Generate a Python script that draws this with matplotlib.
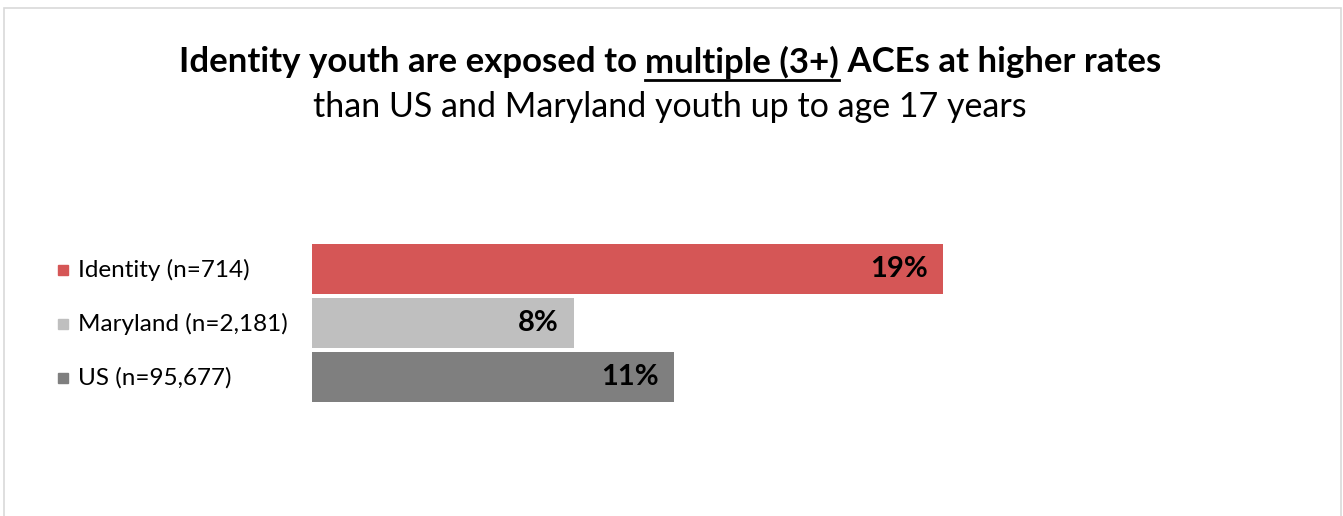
import matplotlib
matplotlib.use("Agg")
from matplotlib import pyplot as plt
from matplotlib.lines import Line2D
from matplotlib.patches import Rectangle

plt.rcParams['font.family'] = ['Lato', 'DejaVu Sans']

# data
groups = ["Identity (n=714)", "Maryland (n=2,181)", "US (n=95,677)"]
values = [19.0, 7.9, 10.9]
value_labels = ["19%", "8%", "11%"]
colors = ["#D55656", "#BFBFBF", "#7F7F7F"]

W, H = 1343, 516
fig = plt.figure(figsize=(W / 100, H / 100), dpi=100)

# light grey frame round the chart area
fig.add_artist(Rectangle((4 / W, -0.01), (1341 - 4) / W, (H - 8) / H + 0.01,
                         transform=fig.transFigure, fill=False,
                         edgecolor="#D9D9D9", linewidth=1.2))

# axes placed so bars start at x=312px, centres at y=269/322/376px
ax_left, ax_right = 312, 1300
ax_top, ax_bot = 242, 404
ax = fig.add_axes([ax_left / W, 1 - ax_bot / H, (ax_right - ax_left) / W, (ax_bot - ax_top) / H])
px_per_unit = 33.2
ax.set_xlim(0, (ax_right - ax_left) / px_per_unit)
ax.set_ylim(2.5, -0.5)
ax.axis("off")

ypos = list(range(len(values)))
ax.barh(ypos, values, height=0.92, color=colors)
for y, v, lab in zip(ypos, values, value_labels):
    ax.annotate(lab, (v, y), xytext=(-11, 0), textcoords="offset points",
                ha="right", va="center", fontsize=21, fontweight="bold", color="black")

# left-hand labels with little colour squares
for y, g, c in zip(ypos, groups, colors):
    fy = 1 - (270 + 54 * y) / H
    fig.add_artist(Rectangle((58 / W, fy - 5 / H), 10 / W, 10 / H,
                             transform=fig.transFigure, color=c))
    fig.text(78 / W, fy, g, ha="left", va="center", fontsize=17.5, color="black")

# title with underlined middle piece
parts = ["Identity youth are exposed to ", "multiple (3+)", " ACEs at higher rates"]
title_y = 1 - 62 / H
renderer = fig.canvas.get_renderer()
texts = [fig.text(0, title_y, p, ha="left", va="center", fontsize=25, fontweight="bold")
         for p in parts]
widths = [t.get_window_extent(renderer).width for t in texts]
x = 670 - sum(widths) / 2
for t, w in zip(texts, widths):
    t.set_x(x / W)
    x += w
x0 = (670 - sum(widths) / 2) + widths[0]
fig.add_artist(Line2D([x0 / W, (x0 + widths[1]) / W], [1 - 80 / H, 1 - 80 / H],
                      transform=fig.transFigure, color="black", linewidth=2))

fig.text(670 / W, 1 - 107 / H, "than US and Maryland youth up to age 17 years",
         ha="center", va="center", fontsize=24.5, color="black")

plt.savefig("out.png", dpi=100)
